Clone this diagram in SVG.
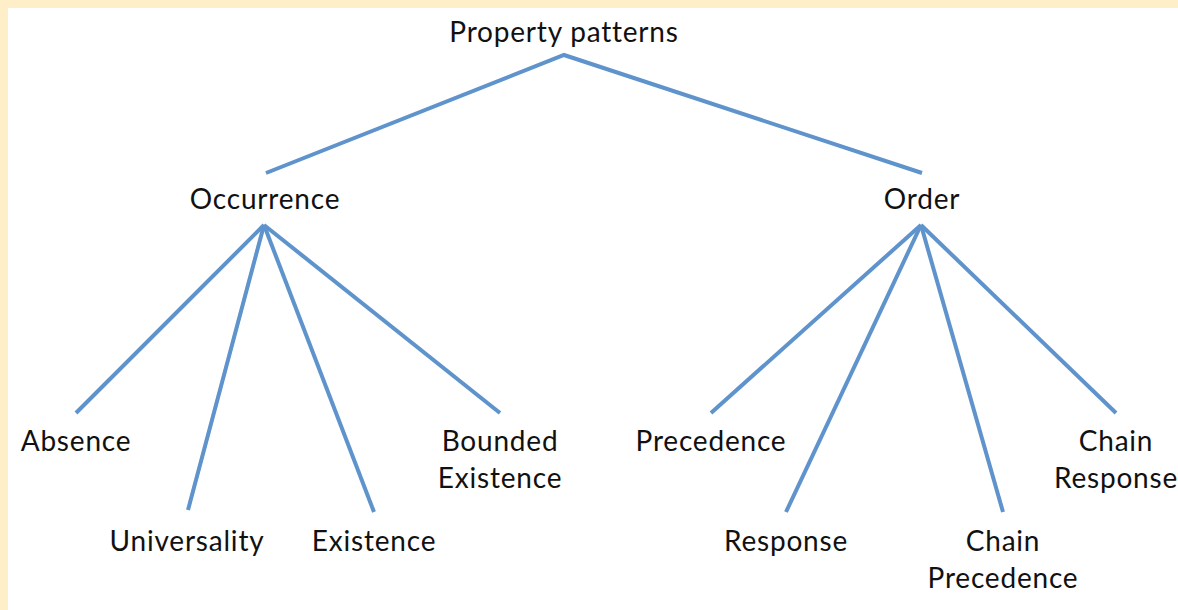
<svg xmlns="http://www.w3.org/2000/svg" width="1178" height="610" viewBox="0 0 1178 610">
  <style>
    .lbl { font-family: Lato, "Open Sans", "Liberation Sans", sans-serif; font-size: 28px; letter-spacing: 0.8px; fill: #111; text-anchor: middle; }
    .edge { stroke: #5F93CC; stroke-width: 4; stroke-linecap: butt; fill: none; }
  </style>
  <!-- page background and frame strips -->
  <rect x="0" y="0" width="1178" height="610" fill="#ffffff"/>
  <rect x="0" y="0" width="1178" height="8" fill="#FFEFC8"/>
  <rect x="0" y="0" width="8" height="610" fill="#FFEFC8"/>

  <g id="connectors">
    <polyline class="edge" points="266,173 564,55 922,173"/>
    <line class="edge" x1="264" y1="225" x2="76" y2="413"/>
    <line class="edge" x1="264" y1="225" x2="188" y2="510"/>
    <line class="edge" x1="264" y1="225" x2="374" y2="512"/>
    <line class="edge" x1="264" y1="225" x2="500" y2="413"/>
    <line class="edge" x1="921" y1="225" x2="711" y2="413"/>
    <line class="edge" x1="921" y1="225" x2="786" y2="512"/>
    <line class="edge" x1="921" y1="225" x2="1003" y2="512"/>
    <line class="edge" x1="921" y1="225" x2="1116" y2="413"/>
  </g>

  <g id="root"><text class="lbl" x="564" y="42">Property patterns</text></g>
  <g id="occurrence"><text class="lbl" x="265" y="209">Occurrence</text></g>
  <g id="order"><text class="lbl" x="922" y="209">Order</text></g>
  <g id="absence"><text class="lbl" x="76" y="451">Absence</text></g>
  <g id="universality"><text class="lbl" x="187" y="551">Universality</text></g>
  <g id="existence"><text class="lbl" x="374" y="551">Existence</text></g>
  <g id="bounded-existence"><text class="lbl" x="500" y="451">Bounded</text><text class="lbl" x="500" y="488">Existence</text></g>
  <g id="precedence"><text class="lbl" x="711" y="451">Precedence</text></g>
  <g id="response"><text class="lbl" x="786" y="551">Response</text></g>
  <g id="chain-precedence"><text class="lbl" x="1003" y="551">Chain</text><text class="lbl" x="1003" y="588">Precedence</text></g>
  <g id="chain-response"><text class="lbl" x="1116" y="451">Chain</text><text class="lbl" x="1116" y="488">Response</text></g>
</svg>
